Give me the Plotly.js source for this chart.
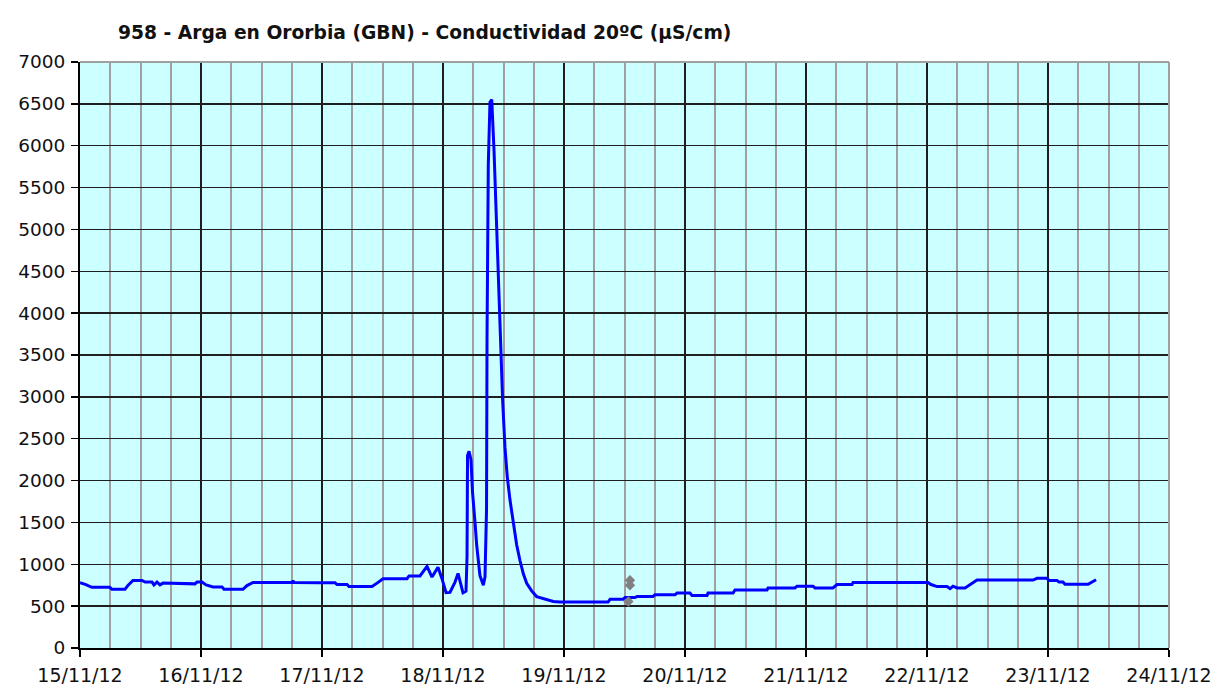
<!DOCTYPE html>
<html>
<head>
<meta charset="utf-8">
<script src="https://cdn.plot.ly/plotly-3.0.1.min.js"></script>
<style>
  html, body { margin: 0; padding: 0; background: #ffffff; }
  #chart { width: 1228px; height: 689px; }
</style>
</head>
<body>
<div id="chart"></div>
<script>
// Conductividad 20ºC (µS/cm) — series
const times = [
  "2012-11-15 00:00","2012-11-15 01:10","2012-11-15 02:20","2012-11-15 05:55","2012-11-15 06:20","2012-11-15 08:55",
  "2012-11-15 09:30","2012-11-15 10:30","2012-11-15 12:18","2012-11-15 12:54","2012-11-15 14:17","2012-11-15 14:40",
  "2012-11-15 15:16","2012-11-15 15:52","2012-11-15 16:28","2012-11-15 18:15","2012-11-15 18:50","2012-11-15 22:48",
  "2012-11-15 23:12","2012-11-16 00:12","2012-11-16 01:00","2012-11-16 02:23","2012-11-16 04:10","2012-11-16 04:34",
  "2012-11-16 08:20","2012-11-16 09:07","2012-11-16 10:19","2012-11-16 18:05","2012-11-16 18:15","2012-11-16 18:25",
  "2012-11-16 23:36","2012-11-17 02:35","2012-11-17 03:00","2012-11-17 04:58","2012-11-17 05:21","2012-11-17 09:55",
  "2012-11-17 10:55","2012-11-17 12:06","2012-11-17 16:52","2012-11-17 17:16","2012-11-17 19:26","2012-11-17 20:50",
  "2012-11-17 21:49","2012-11-17 23:00","2012-11-17 23:48","2012-11-18 00:36","2012-11-18 01:23","2012-11-18 02:23",
  "2012-11-18 02:59","2012-11-18 03:34","2012-11-18 03:58","2012-11-18 04:34","2012-11-18 04:46","2012-11-18 04:52",
  "2012-11-18 05:10","2012-11-18 05:33","2012-11-18 05:51","2012-11-18 06:21","2012-11-18 06:41","2012-11-18 07:20",
  "2012-11-18 08:00","2012-11-18 08:20","2012-11-18 08:38","2012-11-18 08:44","2012-11-18 08:59","2012-11-18 09:19",
  "2012-11-18 09:40","2012-11-18 10:07","2012-11-18 10:27","2012-11-18 10:46","2012-11-18 11:10","2012-11-18 11:27",
  "2012-11-18 11:50","2012-11-18 12:18","2012-11-18 12:45","2012-11-18 13:17","2012-11-18 13:57","2012-11-18 14:37",
  "2012-11-18 15:16","2012-11-18 15:56","2012-11-18 16:36","2012-11-18 17:35","2012-11-18 18:35","2012-11-18 19:54",
  "2012-11-18 21:13","2012-11-18 21:53","2012-11-18 23:12","2012-11-19 08:44","2012-11-19 09:08","2012-11-19 11:42",
  "2012-11-19 12:06","2012-11-19 14:05","2012-11-19 14:29","2012-11-19 17:39","2012-11-19 18:03","2012-11-19 22:01",
  "2012-11-19 22:25","2012-11-20 00:59","2012-11-20 01:23","2012-11-20 04:22","2012-11-20 04:34","2012-11-20 09:32",
  "2012-11-20 09:55","2012-11-20 16:16","2012-11-20 16:28","2012-11-20 21:49","2012-11-20 22:13","2012-11-21 01:23",
  "2012-11-21 01:47","2012-11-21 05:21","2012-11-21 06:09","2012-11-21 09:08","2012-11-21 09:20","2012-11-22 00:12",
  "2012-11-22 00:48","2012-11-22 02:00","2012-11-22 03:59","2012-11-22 04:34","2012-11-22 05:10","2012-11-22 05:58",
  "2012-11-22 07:33","2012-11-22 08:20","2012-11-22 09:20","2012-11-22 09:55","2012-11-22 21:02","2012-11-22 21:49",
  "2012-11-22 23:48","2012-11-23 00:12","2012-11-23 01:47","2012-11-23 02:11","2012-11-23 02:59","2012-11-23 03:23",
  "2012-11-23 07:57","2012-11-23 08:44","2012-11-23 09:32"
];
const conductividad = [
  779,758,725,725,701,701,
  746,807,807,787,787,754,
  787,754,775,775,766,766,
  787,787,754,730,730,701,
  701,746,783,783,805,783,
  780,779,758,758,734,734,
  775,828,828,861,861,975,
  848,965,828,660,664,787,
  890,760,660,680,1090,2300,
  2350,2250,1864,1500,1227,864,
  750,850,1650,3700,5770,6520,
  6550,5950,5340,4820,4270,3640,
  2950,2390,2045,1770,1480,1230,
  1045,886,773,682,614,591,
  568,555,549,549,582,582,
  602,602,615,615,635,635,
  656,656,627,627,656,656,
  693,693,717,717,738,738,
  717,717,758,758,783,783,
  758,734,734,709,738,717,
  717,746,780,811,811,832,
  832,807,807,787,787,762,
  762,791,816
];
// isolated grey points (second series)
const greyTimes = ["2012-11-19 13:05","2012-11-19 13:05","2012-11-19 12:46"];
const greyValues = [810, 750, 555];

const titleText = "958 - Arga en Ororbia (GBN) - Conductividad 20ºC (µS/cm)";
const xRange = ["2012-11-15 00:00", "2012-11-24 00:00"];
const yRange = [0, 7000];

const font = "Verdana, 'DejaVu Sans', sans-serif";

const traces = [
  {
    x: times, y: conductividad, type: "scatter", mode: "lines",
    line: { color: "#0000ff", width: 3 },
    hoverinfo: "x+y"
  },
  {
    x: greyTimes, y: greyValues, type: "scatter", mode: "markers",
    marker: { symbol: "diamond", size: 8, color: "#808080" },
    hoverinfo: "x+y"
  }
];

const layout = {
  width: 1228, height: 689,
  paper_bgcolor: "#ffffff",
  plot_bgcolor: "#ccffff",
  showlegend: false,
  margin: { l: 80, r: 59, t: 62, b: 41, pad: 0 },
  title: {
    text: titleText,
    font: { family: font, size: 18.7, color: "#111111", weight: "bold" },
    x: 118 / 1228, xanchor: "left", xref: "container",
    y: 1 - 32 / 689, yanchor: "middle", yref: "container"
  },
  xaxis: {
    type: "date",
    range: xRange,
    dtick: 86400000,
    tick0: "2012-11-15",
    tickformat: "%d/%m/%y",
    ticks: "outside", ticklen: 7, tickwidth: 1.5, tickcolor: "#000000",
    ticklabelstandoff: 2,
    showline: true, linecolor: "#000000", linewidth: 2,
    showgrid: true, gridcolor: "#1e1e1e", gridwidth: 1.5,
    zeroline: false,
    tickfont: { family: font, size: 19, color: "#111111" },
    minor: { dtick: 21600000, tick0: "2012-11-15", showgrid: true, gridcolor: "#a0a0a0", gridwidth: 2, ticks: "" },
    fixedrange: true
  },
  yaxis: {
    range: yRange,
    dtick: 500, tick0: 0,
    ticks: "outside", ticklen: 7, tickwidth: 1.5, tickcolor: "#000000",
    ticklabelstandoff: 2,
    showline: true, linecolor: "#000000", linewidth: 2,
    showgrid: true, gridcolor: "#1e1e1e", gridwidth: 1.5,
    zeroline: false,
    tickfont: { family: font, size: 18.5, color: "#111111" },
    fixedrange: true
  },
  shapes: [
    { type: "line", xref: "paper", yref: "paper", x0: 0, x1: 1, y0: 1, y1: 1,
      line: { color: "#a0a0a0", width: 2 }, layer: "above" },
    { type: "line", xref: "paper", yref: "paper", x0: 1, x1: 1, y0: 0, y1: 1,
      line: { color: "#a0a0a0", width: 2 }, layer: "above" }
  ]
};

Plotly.newPlot("chart", traces, layout, { displayModeBar: false, staticPlot: true });
</script>
</body>
</html>
